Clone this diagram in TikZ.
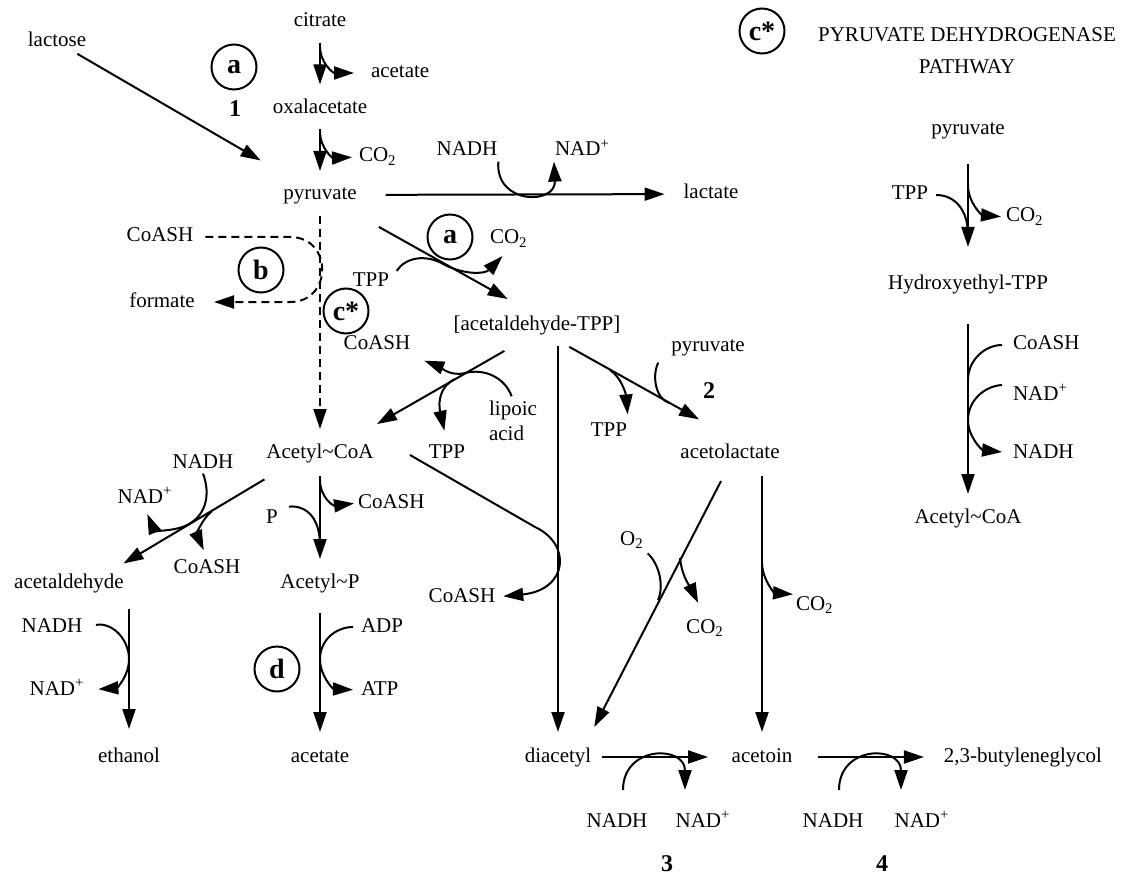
\documentclass[tikz,border=0pt]{standalone}
\usepackage{fontspec}
\setmainfont{Liberation Serif}
\usetikzlibrary{arrows.meta}

\begin{document}
\begin{tikzpicture}[x=0.5pt,y=-0.5pt,line width=1pt,
  font=\fontsize{10.5}{12.6}\selectfont,
  every node/.style={inner sep=0pt,text height=7.3pt,text depth=2.3pt},
  rx/.style={-{Triangle[length=10pt,width=6.5pt]}},
  dsh/.style={dash pattern=on 4pt off 2.5pt},
  circ/.style={draw,circle,minimum size=22.5pt,text height=,text depth=,
    font=\fontsize{14}{16}\selectfont\bfseries},
  num/.style={font=\fontsize{12}{14}\selectfont\bfseries}]
  \useasboundingbox (0,0) rectangle (1124,877);
  % entry into pyruvate
  \node (lactose) at (57,42) {lactose};
  \node (citrate) at (320,22) {citrate};
  \node[anchor=west] (acetT) at (370,73) {acetate};
  \node (oxal) at (320,109) {oxalacetate};
  \node[anchor=west] (co2a) at (358,157) {CO\textsubscript{2}};
  \node (pyr) at (320,195) {pyruvate};
  \node (nadhA) at (467,151) {NADH};
  \node[anchor=west] (nadA) at (554,151) {NAD\textsuperscript{+}};
  \node (lactate) at (711,194) {lactate};
  \node[circ] (cA1) at (234,67) {a};
  \node[num] (n1) at (235,112) {1};
  % pyruvate formate lyase / pyruvate decarboxylation
  \node (coashB) at (160,237) {CoASH};
  \node (formate) at (162,302) {formate};
  \node[circ] (cB) at (261,270) {b};
  \node[circ] (cC1) at (346,311) {c*};
  \node (tppA) at (371,281) {TPP};
  \node[circ] (cA2) at (450,237) {a};
  \node[anchor=west] (co2b) at (489,239) {CO\textsubscript{2}};
  \node (coashA) at (377,345) {CoASH};
  \node (acTPP) at (537,325) {[acetaldehyde-TPP]};
  \node[align=left,text height=,text depth=] (lipoic) at (513,421) {lipoic\\acid};
  \node (tppB) at (447,453) {TPP};
  \node (tppC) at (609,431) {TPP};
  \node (pyrB) at (708,346) {pyruvate};
  \node[num] (n2) at (709,393) {2};
  \node (acetolac) at (730,453) {acetolactate};
  % acetyl-CoA branch
  \node (AcCoA) at (320,453) {Acetyl\textasciitilde CoA};
  \node (nadhB) at (203,463) {NADH};
  \node (nadB) at (145,498) {NAD\textsuperscript{+}};
  \node (coashD) at (207,568) {CoASH};
  \node (acetald) at (69,583) {acetaldehyde};
  \node[anchor=west] (coashE) at (357,503) {CoASH};
  \node (pP) at (272,518) {P};
  \node (AcP) at (320,583) {Acetyl\textasciitilde P};
  \node (coashC) at (462,597) {CoASH};
  \node (nadhC) at (52,627) {NADH};
  \node (nadC) at (57,690) {NAD\textsuperscript{+}};
  \node[anchor=west] (adp) at (360,627) {ADP};
  \node[anchor=west] (atp) at (360,690) {ATP};
  \node[circ] (cD) at (277,669) {d};
  \node (ethanol) at (129,757) {ethanol};
  \node (acetB) at (320,757) {acetate};
  % diacetyl / acetoin branch
  \node (o2) at (632,540) {O\textsubscript{2}};
  \node (co2c) at (705,628) {CO\textsubscript{2}};
  \node[anchor=west] (co2d) at (795,605) {CO\textsubscript{2}};
  \node (diacetyl) at (558,757) {diacetyl};
  \node (acetoin) at (762,757) {acetoin};
  \node (glycol) at (1023,757) {2,3-butyleneglycol};
  \node (nadhD) at (617,822) {NADH};
  \node (nadD) at (703,822) {NAD\textsuperscript{+}};
  \node (nadhE) at (833,822) {NADH};
  \node (nadE) at (922,822) {NAD\textsuperscript{+}};
  \node[num] (n3) at (667,866) {3};
  \node[num] (n4) at (882,866) {4};
  % pyruvate dehydrogenase pathway (right)
  \node[circ] (cC2) at (762,31) {c*};
  \node[align=center,text height=,text depth=] (title) at (967,51)
    {PYRUVATE DEHYDROGENASE\\[3.4pt]PATHWAY};
  \node (pyrR) at (968,130) {pyruvate};
  \node (tppR) at (910,195) {TPP};
  \node[anchor=west] (co2R) at (1005,217) {CO\textsubscript{2}};
  \node (hetpp) at (968,285) {Hydroxyethyl-TPP};
  \node[anchor=west] (coashR) at (1012,345) {CoASH};
  \node[anchor=west] (nadR) at (1012,395) {NAD\textsuperscript{+}};
  \node[anchor=west] (nadhR) at (1012,453) {NADH};
  \node (AcCoAR) at (968,518) {Acetyl\textasciitilde CoA};

  % main reactions
  \draw[rx,shorten <=5pt,shorten >=7pt] (citrate) -- (oxal);
  \draw[rx,shorten <=4.7pt,shorten >=6.7pt] (oxal) -- (pyr);
  \draw[rx,shorten <=1.2pt,shorten >=23.8pt] (lactose) -- (pyr);
  \draw[rx,shorten <=14pt,shorten >=9pt] (pyr) -- (lactate);
  \draw[rx,dsh,shorten <=5.2pt,shorten >=6.7pt] (pyr) -- (AcCoA);
  \draw[rx,shorten <=21.8pt,shorten >=15.7pt] (pyr.-27) -- (acTPP.100);
  \draw[rx,shorten <=15.4pt,shorten >=18.4pt] (acTPP.241) -- (AcCoA.23);
  \draw[rx,shorten <=11.5pt,shorten >=23.6pt] (acTPP.-41) -- (acetolac.46);
  \draw[rx,shorten <=5.2pt,shorten >=7.2pt] (acTPP.south -| diacetyl) -- (diacetyl);
  \draw[rx,shorten <=6.2pt,shorten >=7.2pt] (acetolac.south -| acetoin) -- (acetoin);
  \draw[rx,shorten <=9.8pt,shorten >=10.9pt] (acetolac.south) -- (diacetyl.22);
  \draw[rx,shorten <=4.9pt,shorten >=11.3pt] (diacetyl) -- (acetoin);
  \draw[rx,shorten <=12.3pt,shorten >=9.5pt] (acetoin) -- (glycol);
  \draw[rx,shorten <=6.2pt,shorten >=6.7pt] (AcCoA) -- (AcP);
  \draw[rx,shorten <=9.7pt,shorten >=7.2pt] (AcP) -- (acetB);
  \draw[rx,shorten <=15.4pt,shorten >=8.7pt] (AcCoA.200) -- (acetald.15);
  \draw[rx,shorten <=7.7pt,shorten >=8.7pt] (acetald.south -| ethanol) -- (ethanol);
  \draw[rx,shorten <=11.7pt,shorten >=13.7pt] (pyrR) -- (hetpp);
  \draw[rx,shorten <=14.2pt,shorten >=6.7pt] (hetpp) -- (AcCoAR);
  \coordinate (ccStart) at (410,455);
  \draw[rx,shorten >=3.5pt] (ccStart) -- (535,527)
    .. controls (572,544) and (568,590) .. (coashC.east);

  % side reactions
  \coordinate (jA) at (320,46);
  \draw[rx,shorten >=8pt] (jA) .. controls (320,63) and (333,73) .. (acetT.west);
  \coordinate (jB) at (320,131);
  \draw[rx,shorten >=3pt] (jB) .. controls (320,149) and (333,158) .. (co2a.west);
  \draw[rx] (nadhA.south east) .. controls (495,205) and (556,205) .. (nadA.south west);
  \draw[rx,dsh,shorten <=5.5pt,shorten >=9.2pt] (coashB.east) -- (290,237)
    .. controls (333,237) and (333,302) .. (290,302) -- (formate.east);
  \draw[rx,shorten <=6pt,shorten >=4.5pt] (tppA.east) .. controls (405,258) and (425,253)
    .. (445,265) .. controls (465,275) and (485,274) .. (co2b.south);
  \draw[rx,shorten <=2pt,shorten >=7pt] (lipoic.north) .. controls (505,378) and (485,368)
    .. (465,373) .. controls (450,377) and (438,366) .. (coashA.south east);
  \coordinate (jTB) at (455,379);
  \draw[rx,shorten >=6pt] (jTB) .. controls (440,386) and (438,402) .. (tppB.north);
  \coordinate (jTC) at (610,370);
  \draw[rx,shorten >=3pt] (jTC) .. controls (622,378) and (626,395) .. (tppC.north east);
  \coordinate (jPB) at (669,403);
  \draw ([xshift=-6pt,yshift=-3pt]pyrB.south west) .. controls (652,375) and (655,398) .. (jPB);
  \draw[rx,shorten >=3pt] (nadhB.south) .. controls (211,495) and (206,517) .. (185,526)
    .. controls (170,532) and (154,530) .. (nadB.south);
  \coordinate (jCD) at (212,511);
  \draw[rx,shorten >=4pt] (jCD) .. controls (201,520) and (197,535) .. (coashD.north);
  \coordinate (jE) at (320,480);
  \draw[rx,shorten >=1.5pt] (jE) .. controls (320,497) and (333,506) .. (coashE.west);
  \coordinate (jP) at (320,545);
  \draw[shorten <=5pt] (pP.north east) .. controls (308,505) and (320,520) .. (jP);
  \draw[rx,shorten <=3.5pt,shorten >=3.5pt] (adp.west) .. controls (336,627) and (320,640) .. (320,659)
    .. controls (320,676) and (333,689) .. (atp.west);
  \draw[rx,shorten <=6.4pt,shorten >=6.5pt] (nadhC.east) .. controls (113,622) and (129,640)
    .. (129,659) .. controls (129,677) and (116,688) .. (nadC.east);
  \coordinate (jO) at (658,600);
  \draw[shorten <=2pt] (o2.south east) .. controls (660,565) and (664,587) .. (jO);
  \coordinate (jC) at (680,558);
  \draw[rx,shorten >=8pt] (jC) .. controls (682,578) and (692,590) .. (co2c.north);
  \coordinate (jD) at (762,562);
  \draw[rx,shorten >=1pt] (jD) .. controls (762,580) and (775,593) .. (co2d.north west);
  \coordinate (r3a) at (623,790);
  \coordinate (r3b) at (685,790);
  \draw[rx] (r3a) .. controls (623,745) and (685,745) .. (r3b);
  \coordinate (r4a) at (839,790);
  \coordinate (r4b) at (901,790);
  \draw[rx] (r4a) .. controls (839,745) and (901,745) .. (r4b);
  % right pathway cofactors
  \coordinate (rjT) at (968,235);
  \draw[shorten <=3.5pt] (tppR.east) .. controls (955,195) and (968,210) .. (rjT);
  \coordinate (rjC) at (968,185);
  \draw[rx,shorten >=2pt] (rjC) .. controls (968,203) and (982,215) .. (co2R.west);
  \coordinate (rjS) at (968,380);
  \draw[shorten <=5pt] (coashR.west) .. controls (985,345) and (968,360) .. (rjS);
  \coordinate (rjN) at (968,420);
  \draw[rx,shorten <=5pt,shorten >=5pt] (nadR.north west) .. controls (985,386) and (968,400)
    .. (rjN) .. controls (968,437) and (982,450) .. (nadhR.west);
\end{tikzpicture}
\end{document}
